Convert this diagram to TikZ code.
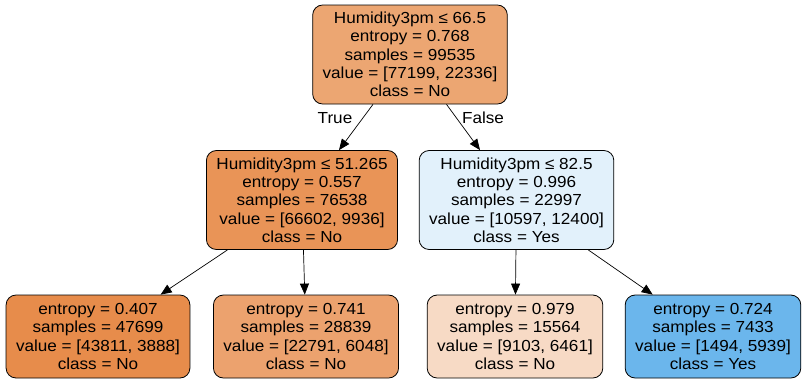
\documentclass[tikz,border=0pt]{standalone}
\usepackage{fontspec}
\setmainfont{Liberation Sans}[FakeStretch=1.07]
\usetikzlibrary{arrows.meta}
\definecolor{rootfill}{RGB}{236,166,114}
\definecolor{lowfill}{RGB}{233,148,87}
\definecolor{highfill}{RGB}{226,241,251}
\definecolor{leafa}{RGB}{231,140,75}
\definecolor{leafb}{RGB}{236,162,110}
\definecolor{leafc}{RGB}{247,218,197}
\definecolor{leafd}{RGB}{107,182,236}
\begin{document}
\begin{tikzpicture}[x=1pt,y=-1pt,font=\fontsize{16}{18.3}\selectfont]
       \tikzstyle{treenode}=[draw,line width=0.8pt,rounded corners=10pt,align=center,inner xsep=10pt,inner ysep=0pt]
       \tikzstyle{splitnode}=[treenode,minimum height=99pt]
       \tikzstyle{leafnode}=[treenode,minimum height=83pt]
       \tikzstyle{treeedge}=[draw,line width=0.7pt,-{Triangle[length=11pt,width=9pt]}]
       \useasboundingbox (0,0) rectangle (806,384);
       \node[splitnode,fill=rootfill] (root) at (410,54.5)
        {Humidity3pm ≤ 66.5\\entropy = 0.768\\samples = 99535\\value = [77199, 22336]\\class = No};
       \node[splitnode,fill=lowfill] (low) at (302,200)
        {Humidity3pm ≤ 51.265\\entropy = 0.557\\samples = 76538\\value = [66602, 9936]\\class = No};
       \node[splitnode,fill=highfill] (high) at (516.5,200)
        {Humidity3pm ≤ 82.5\\entropy = 0.996\\samples = 22997\\value = [10597, 12400]\\class = Yes};
       \node[leafnode,fill=leafa] (lowlow) at (98,336.5)
        {entropy = 0.407\\samples = 47699\\value = [43811, 3888]\\class = No};
       \node[leafnode,fill=leafb] (lowhigh) at (306,336.5)
        {entropy = 0.741\\samples = 28839\\value = [22791, 6048]\\class = No};
       \node[leafnode,fill=leafc] (highlow) at (515,336.5)
        {entropy = 0.979\\samples = 15564\\value = [9103, 6461]\\class = No};
       \node[leafnode,fill=leafd] (highhigh) at (713,336.5)
        {entropy = 0.724\\samples = 7433\\value = [1494, 5939]\\class = Yes};
       \node (truelabel) at (335,118) {True};
       \node (falselabel) at (483,118) {False};
       \draw[treeedge] (root) -- (low);
       \draw[treeedge] (root) -- (high);
       \draw[treeedge] (low) -- (lowlow);
       \draw[treeedge] (low) -- (lowhigh);
       \draw[treeedge] (high) -- (highlow);
       \draw[treeedge] (high) -- (highhigh);
      \end{tikzpicture}
\end{document}
